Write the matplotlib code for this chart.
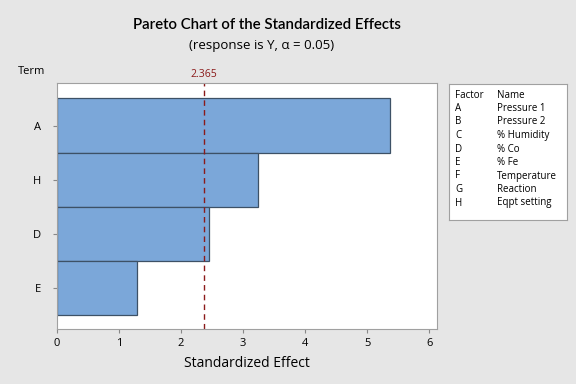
import numpy as np
import matplotlib.pyplot as plt

plt.rcParams['font.family'] = ['Open Sans', 'DejaVu Sans']

terms = ['A', 'H', 'D', 'E']
effects = [5.36, 3.24, 2.46, 1.30]
crit = 2.365
factors = ['A', 'B', 'C', 'D', 'E', 'F', 'G', 'H']
names = ['Pressure 1', 'Pressure 2', '% Humidity', '% Co', '% Fe',
         'Temperature', 'Reaction', 'Eqpt setting']

bg = '#e6e6e6'
fig = plt.figure(figsize=(5.76, 3.84), dpi=100, facecolor=bg)
ax = fig.add_axes([56.7/576, 1-329.3/384, (436.7-56.7)/576, (329.3-83.3)/384])

y = np.arange(len(terms))
ax.barh(y, effects, height=1.0, color='#7ba7d9', edgecolor='#3d5166', linewidth=0.9)
ax.axvline(crit, color='#8b1a1a', linestyle=(0, (4, 3)), linewidth=1.0)
ax.text(crit, 1.012, f'{crit:.3f}', transform=ax.get_xaxis_transform(),
        ha='center', va='bottom', color='#8b1a1a', fontsize=7.5)

ax.set_xlim(0, 6.12)
ax.set_ylim(3.5 + 0.26, -0.5 - 0.28)
ax.set_yticks(y)
ax.set_yticklabels(terms, fontsize=8)
ax.set_xticks(range(7))
ax.tick_params(axis='x', labelsize=8, length=3, color='#888888', pad=3)
ax.tick_params(axis='y', length=3, color='#888888', pad=8)
for s in ax.spines.values():
    s.set_color('#a0a0a0')
    s.set_linewidth(0.8)
ax.set_xlabel('Standardized Effect', fontsize=10, labelpad=5)

fig.text(267/576, 1-25/384, 'Pareto Chart of the Standardized Effects',
         ha='center', va='center', fontsize=10.8, fontweight='semibold',
         family=['Lato', 'DejaVu Sans'])
fig.text(262/576, 1-46/384, '(response is Y, \u03b1 = 0.05)',
         ha='center', va='center', fontsize=9.5)
fig.text(18/576, 1-72/384, 'Term', ha='left', va='center', fontsize=8)

# factor/name table
lg = fig.add_axes([449/576, 1-220/384, 118/576, 136/384])
lg.set_xticks([])
lg.set_yticks([])
for s in lg.spines.values():
    s.set_color('#a0a0a0')
    s.set_linewidth(0.8)
rows = [('Factor', 'Name')] + list(zip(factors, names))
for i, (f, n) in enumerate(rows):
    yy = 1 - (11 + i * 13.5) / 136
    lg.text(6/118, yy, f, ha='left', va='center', fontsize=7, transform=lg.transAxes)
    lg.text(48/118, yy, n, ha='left', va='center', fontsize=7, transform=lg.transAxes)

fig.savefig('out.png', dpi=100, facecolor=bg)
